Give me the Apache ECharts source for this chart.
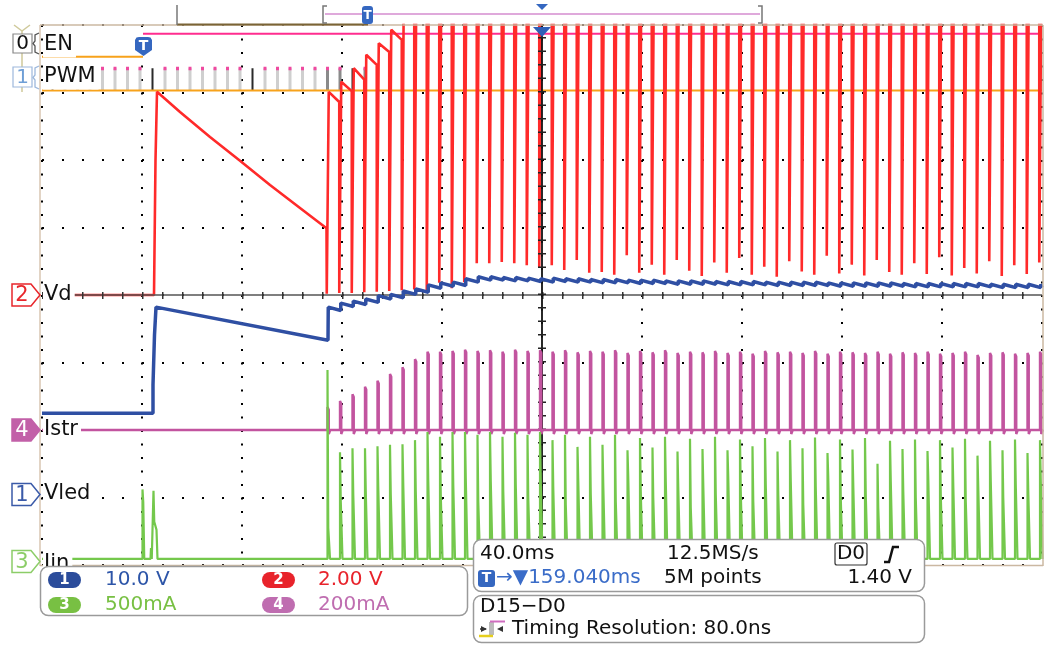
<!DOCTYPE html>
<html>
<head>
<meta charset="utf-8">
<title>EN / PWM / Vd / Istr / Vled / Iin</title>
<script src="https://cdn.jsdelivr.net/npm/echarts@6.0.0/dist/echarts.min.js"></script>
<style>
html,body{margin:0;padding:0;background:#fff;}
#chart{width:1062px;height:645px;}
</style>
</head>
<body>
<div id="chart"></div>
<script>
// ===== time base (ms): 40 ms/div, 10 divisions; vertical: 8 divisions =====
const timeMin = 0, timeMax = 400, timeDiv = 40;
const vMin = 0, vMax = 8;
const centerTime = 200, centerLevel = 4;

// ===== PWM clock (digital ch1) =====
const pwmFirst = 4.2;      // ms, first PWM pulse on screen
const pwmPeriod = 5;       // ms
const pwmCount = 80;
const pwmDarkIdx = [0, 8, 16, 24, 32, 40, 48, 56, 64, 72];
const swFirstIdx = 22;     // PWM pulse at which switching starts
const pwmLowLevel = 7.03, pwmHighLevel = 7.36;

// ===== EN (digital ch0) =====
const enEdge = 40.4;
const enLowLevel = 7.53, enHighLevel = 7.87;

// ===== Vd (ch2) before switching =====
const vdPreT = [0, 44.8, 45.4, 46.0, 55.2, 67.2, 79.2, 91.2, 103.2, 113.8];
const vdPreV = [4.00, 4.00, 6.00, 7.01, 6.71, 6.34, 5.99, 5.63, 5.29, 4.99];
// Vd per switching pulse (58 pulses): peak after rise, level before next fall, bottom of the fall
const vdPeak = [7.01,7.16,7.36,7.56,7.73,7.93,8.4,8.4,8.4,8.4,
                8.4,8.4,8.4,8.4,8.4,8.4,8.4,8.4,8.4,8.4,
                8.4,8.4,8.4,8.4,8.4,8.4,8.4,8.4,8.4,8.4,
                8.4,8.4,8.4,8.4,8.4,8.4,8.4,8.4,8.4,8.4,
                8.4,8.4,8.4,8.4,8.4,8.4,8.4,8.4,8.4,8.4,
                8.4,8.4,8.4,8.4,8.4,8.4,8.4,8.4];
const vdEnd  = [6.86,7.02,7.19,7.41,7.60,7.78,8.3,8.3,8.3,8.3,
                8.3,8.3,8.3,8.3,8.3,8.3,8.3,8.3,8.3,8.3,
                8.3,8.3,8.3,8.3,8.3,8.3,8.3,8.3,8.3,8.3,
                8.3,8.3,8.3,8.3,8.3,8.3,8.3,8.3,8.3,8.3,
                8.3,8.3,8.3,8.3,8.3,8.3,8.3,8.3,8.3,8.3,
                8.3,8.3,8.3,8.3,8.3,8.3,8.3,8.3];
const vdLow  = [4.02,4.03,4.03,4.04,4.05,4.06,4.07,4.08,4.07,4.18,
                4.10,4.19,4.47,4.47,4.49,4.47,4.44,4.41,4.44,4.37,
                4.52,4.33,4.34,4.30,4.59,4.33,4.45,4.30,4.52,4.36,
                4.28,4.48,4.33,4.55,4.30,4.42,4.27,4.50,4.35,4.30,
                4.58,4.32,4.45,4.29,4.52,4.34,4.30,4.47,4.31,4.56,
                4.29,4.40,4.32,4.50,4.28,4.44,4.31,4.48];

// ===== Vled (ch1) =====
const vledPreT = [0, 44.4, 44.4, 45.0, 45.0, 45.6, 45.6, 46.2, 114.4];
const vledPreV = [2.25, 2.25, 2.67, 2.67, 3.41, 3.41, 3.82, 3.84, 3.33];
const vledPeak = [3.82,3.88,3.91,3.94,3.99,4.01,4.06,4.09,4.15,4.18,
                  4.19,4.24,4.27,4.27,4.26,4.26,4.25,4.24,4.25,4.24,
                  4.24,4.23,4.23,4.23,4.22,4.22,4.22,4.21,4.21,4.21,
                  4.21,4.20,4.20,4.20,4.20,4.19,4.19,4.19,4.19,4.19,
                  4.18,4.18,4.18,4.18,4.18,4.18,4.17,4.17,4.17,4.17,
                  4.17,4.17,4.17,4.16,4.16,4.16,4.16,4.16];
const vledRipple = 0.05;

// ===== Istr (ch4) =====
const istrBase = 2.0;
const istrPeak = [2.34,2.43,2.53,2.64,2.73,2.83,2.93,3.05,3.16,3.16,
                  3.17,3.19,3.17,3.18,3.16,3.19,3.17,3.18,3.16,3.18,
                  3.15,3.17,3.16,3.18,3.14,3.17,3.15,3.18,3.14,3.16,
                  3.15,3.17,3.14,3.16,3.13,3.17,3.15,3.16,3.14,3.17,
                  3.13,3.16,3.15,3.14,3.16,3.13,3.15,3.14,3.16,3.13,
                  3.14,3.16,3.11,3.14,3.15,3.13,3.14,3.16];

// ===== Iin (ch3) =====
const iinBase = 0.09;
const iinPreT = [0, 40.2, 40.2, 40.5, 40.5, 40.9, 40.9, 43.4, 43.6, 43.9, 44.6, 44.6, 44.9, 44.9, 45.8, 46.2];
const iinPreV = [0.09, 0.09, 1.12, 1.12, 0.93, 0.93, 0.09, 0.09, 0.25, 0.09, 0.09, 1.10, 1.10, 0.64, 0.52, 0.09];
const iinPeak = [2.89,1.67,1.73,1.73,1.76,1.78,1.79,1.85,1.97,1.90,
                 1.97,1.97,1.93,1.97,1.90,1.96,1.93,1.97,1.85,1.93,
                 1.75,1.90,1.78,1.93,1.70,1.88,1.74,1.90,1.68,1.87,
                 1.72,1.90,1.70,1.86,1.76,1.88,1.68,1.85,1.73,1.89,
                 1.66,1.86,1.71,1.88,1.50,1.84,1.72,1.86,1.69,1.85,
                 1.74,1.87,1.62,1.84,1.70,1.86,1.66,1.85];
const iinShoulder = [0.55,0.95,1.05,1.10,1.15,1.05,1.20,1.10,1.25,1.05,
                     1.20,1.30,0.95,1.25,1.10,1.20,1.00,1.25,1.15,0.90,
                     1.25,1.05,1.20,0.95,1.30,1.10,1.00,1.25,1.15,0.85,
                     1.20,1.05,1.30,1.10,0.95,1.20,1.05,1.25,0.90,1.15,
                     1.30,1.00,1.20,1.05,0.85,1.25,1.10,1.00,1.30,1.05,
                     1.20,0.95,1.15,1.25,1.00,1.20,1.10,1.25];

// ===== scale / readout texts =====
const chLabels = ['EN', 'PWM', 'Vd', 'Istr', 'Vled', 'Iin'];
const scaleTexts = ['10.0 V', '2.00 V', '500mA', '200mA'];
const horizTexts = ['40.0ms', '12.5MS/s', 'D0', '\u2192\u25BC159.040ms', '5M points', '1.40 V', 'D15\u2212D0', 'Timing Resolution: 80.0ns'];

// ---------------- build series data ----------------
const pwmTimes = [];
for (let k = 0; k < pwmCount; k++) pwmTimes.push(+(pwmFirst + k * pwmPeriod).toFixed(2));
const swTimes = pwmTimes.slice(swFirstIdx);

function barData(idxs, lo, hi) {
  const d = [];
  idxs.forEach(k => { const t = pwmTimes[k]; d.push([t, lo], [t, hi], [t, null]); });
  return d;
}
const allIdx = pwmTimes.map((_, k) => k);
const lightIdx = allIdx.filter(k => k < swFirstIdx && pwmDarkIdx.indexOf(k) < 0);
const grayIdx = allIdx.filter(k => k >= swFirstIdx && pwmDarkIdx.indexOf(k) < 0);
const capIdx = allIdx.filter(k => pwmDarkIdx.indexOf(k) < 0);

// Vd
const vdData = vdPreT.map((t, j) => [t, vdPreV[j]]);
swTimes.forEach((t, i) => {
  const prevEnd = i === 0 ? vdPreV[vdPreV.length - 1] : vdEnd[i - 1];
  vdData.push([t - 0.3, prevEnd], [t - 0.3, vdLow[i]], [t + 0.5, vdLow[i]], [t + 0.5, vdPeak[i]]);
});
vdData.push([timeMax, vdEnd[vdEnd.length - 1]]);

// Vled
const vledData = vledPreT.map((t, j) => [t, vledPreV[j]]);
let vPrev = vledPreV[vledPreV.length - 1];
swTimes.forEach((t, i) => {
  vledData.push([t + 0.3, vPrev], [t + 0.3, vledPeak[i]]);
  vPrev = vledPeak[i] - vledRipple;
});
vledData.push([timeMax, vPrev]);

// Istr
const istrData = [[timeMin, istrBase]];
swTimes.forEach((t, i) => {
  istrData.push([t, istrBase], [t, istrPeak[i]], [t + 0.5, istrPeak[i] - 0.04], [t + 0.5, istrBase - 0.06], [t + 1.1, istrBase]);
});
istrData.push([timeMax, istrBase]);

// Iin
const iinData = iinPreT.map((t, j) => [t, iinPreV[j]]);
swTimes.forEach((t, i) => {
  iinData.push([t, iinBase], [t, iinPeak[i]], [t + 0.3, iinPeak[i]], [t + 0.3, iinShoulder[i]], [t + 1.0, iinShoulder[i]], [t + 1.0, iinBase]);
});
iinData.push([timeMax, iinBase]);

// ---------------- chart ----------------
const chart = echarts.init(document.getElementById('chart'));
const FONT = "'DejaVu Sans', 'Noto Sans', sans-serif";

function lineS(name, data, color, width, z) {
  return { name, type: 'line', data, symbol: 'none', silent: true, animation: false, z: z || 2,
           connectNulls: false, clip: true, lineStyle: { color, width, cap: 'butt', join: 'bevel' } };
}

// graphic helpers (decorations only)
function gText(x, y, text, fill, opt) {
  return { type: 'text', x, y, z: 100, silent: true,
           style: Object.assign({ text, fill, font: '20px ' + FONT, verticalAlign: 'middle', align: 'left' }, opt || {}) };
}
function gLine(x1, y1, x2, y2, stroke, w, z) {
  return { type: 'line', z: z || 90, silent: true, shape: { x1, y1, x2, y2 }, style: { stroke, lineWidth: w || 1.5 } };
}
function gPolyline(points, stroke, w, z) {
  return { type: 'polyline', z: z || 90, silent: true, shape: { points }, style: { stroke, lineWidth: w || 1.5, fill: null } };
}
function gPolygon(points, fill, stroke, w, z) {
  return { type: 'polygon', z: z || 90, silent: true, shape: { points }, style: { fill, stroke, lineWidth: w || 1.5 } };
}
function gRect(x, y, w, h, fill, stroke, lw, r, z) {
  return { type: 'rect', z: z || 95, silent: true, shape: { x, y, width: w, height: h, r: r || 0 },
           style: { fill, stroke, lineWidth: lw || 1 } };
}
function pent(yc, color, filled, digit) {
  return [
    gPolygon([[12, yc - 11], [31, yc - 11], [40, yc], [31, yc + 11], [12, yc + 11]], filled ? color : '#fff', color, 1.5, 96),
    gText(22, yc + 1, digit, filled ? '#fff' : color, { align: 'center', font: '21px ' + FONT })
  ];
}
function chLabel(x, y, text) {
  const t = gText(x, y, text, '#111', { font: '21px ' + FONT, backgroundColor: '#fff', padding: [2, 3, 2, 1] });
  t.z = 98;
  return t;
}
function zt(el, z) { el.z = z; return el; }

const graphics = [
  // frame
  gLine(40, 25, 1043, 25, '#cbb8a2', 1.5), gLine(40, 25, 40, 566, '#d9c6b2', 1.5),
  gLine(1043, 25, 1043, 566, '#cbb8a2', 1.5), gLine(40, 565.5, 1043, 565.5, '#cbb8a2', 1.5),
  gLine(177, 24.5, 368, 24.5, '#7a6436', 2),
  // record view at top
  gLine(177, 5, 177, 25, '#777', 1.5),
  gPolyline([[327, 6], [323, 6], [323, 23], [327, 23]], '#777', 1.5),
  gLine(325, 14, 760, 14, '#d58ccf', 1.5),
  gPolyline([[758, 6], [762, 6], [762, 23], [758, 23]], '#777', 1.5),
  gRect(362, 6, 11, 18, '#3567c0', null, 0, 3, 96),
  zt(gText(367.5, 15.5, 'T', '#fff', { align: 'center', font: 'bold 12px ' + FONT }), 97),
  gPolygon([[536, 4], [548, 4], [542, 10]], '#3567c0', null, 0),
  // trigger markers on the graticule
  gPolygon([[533, 27], [551, 27], [542, 37]], '#2f5fb8', null, 0, 96),
  gPolygon([[135, 40], [136.5, 37.5], [139, 37], [148, 37], [150.5, 37.5], [152, 40], [152, 50], [143.5, 56], [135, 50]], '#3567c0', null, 0, 96),
  zt(gText(143.5, 46, 'T', '#fff', { align: 'center', font: 'bold 14px ' + FONT }), 97),
  // digital channel markers
  gLine(14, 25, 22, 31, '#cfc99a', 1.5), gLine(30, 25, 22, 31, '#cfc99a', 1.5), gLine(22, 31, 22, 92, '#cfc99a', 1.5),
  gRect(13, 34, 19, 19, '#fff', '#888', 1.2, 0, 96),
  zt(gText(22.5, 44, '0', '#111', { align: 'center', font: '20px ' + FONT }), 97),
  gPolyline([[39, 33], [35, 35], [35, 41], [33, 43.5], [35, 46], [35, 52], [39, 54]], '#555', 1.3, 96),
  gRect(13, 67, 19, 20, '#fff', '#9db8dc', 1.2, 0, 96),
  zt(gText(22.5, 77.5, '1', '#6f9fd6', { align: 'center', font: '20px ' + FONT }), 97),
  gPolyline([[39, 66], [35, 68], [35, 75], [33, 77.5], [35, 80], [35, 87], [39, 89]], '#9db8dc', 1.3, 96),
  // analog channel markers
  ...pent(295, '#e8262b', false, '2'),
  ...pent(430, '#c260a8', true, '4'),
  ...pent(494.5, '#3a5aa8', false, '1'),
  ...pent(561.5, '#8ccd68', false, '3'),
  // channel labels
  chLabel(43, 45, chLabels[0]),
  chLabel(43, 77, chLabels[1]),
  chLabel(43, 295, chLabels[2]),
  chLabel(43, 430, chLabels[3]),
  chLabel(43, 494, chLabels[4]),
  chLabel(43, 564, chLabels[5]),
  // scale box (left)
  gRect(40.5, 566.5, 427, 49, '#fff', '#9a9a9a', 1.5, 8, 110),
  gRect(48, 572, 33, 16, '#2b4c9b', null, 0, 8, 111),
  zt(gText(64.5, 580.5, '1', '#fff', { align: 'center', font: 'bold 15px ' + FONT }), 112),
  zt(gText(105, 580, scaleTexts[0], '#2d55a8'), 112),
  gRect(262, 572, 33, 16, '#e8232b', null, 0, 8, 111),
  zt(gText(278.5, 580.5, '2', '#fff', { align: 'center', font: 'bold 15px ' + FONT }), 112),
  zt(gText(318, 580, scaleTexts[1], '#e8232b'), 112),
  gRect(48, 597, 33, 16, '#78c043', null, 0, 8, 111),
  zt(gText(64.5, 605.5, '3', '#fff', { align: 'center', font: 'bold 15px ' + FONT }), 112),
  zt(gText(105, 605, scaleTexts[2], '#78c043'), 112),
  gRect(262, 597, 33, 16, '#bf6db0', null, 0, 8, 111),
  zt(gText(278.5, 605.5, '4', '#fff', { align: 'center', font: 'bold 15px ' + FONT }), 112),
  zt(gText(318, 605, scaleTexts[3], '#bf6db0'), 112),
  // horizontal / trigger box (right)
  gRect(473.5, 539.5, 451, 52, '#fff', '#9a9a9a', 1.5, 8, 110),
  zt(gText(480, 554, horizTexts[0], '#111'), 112),
  zt(gText(667, 554, horizTexts[1], '#111'), 112),
  gRect(835, 543, 32, 22, '#fff', '#333', 1.2, 2, 111),
  zt(gText(851, 554, horizTexts[2], '#111', { align: 'center' }), 112),
  gPolyline([[884, 562], [889, 562], [893, 547], [899, 547]], '#111', 2.5, 112),
  gRect(478, 570, 17, 17, '#3567c0', null, 0, 3, 111),
  zt(gText(486.5, 578.5, 'T', '#fff', { align: 'center', font: 'bold 14px ' + FONT }), 112),
  zt(gText(496, 578, horizTexts[3], '#3a6cc8'), 112),
  zt(gText(664, 578, horizTexts[4], '#111'), 112),
  zt(gText(912, 578, horizTexts[5], '#111', { align: 'right' }), 112),
  // acquisition box
  gRect(473.5, 595.5, 451, 47, '#fff', '#9a9a9a', 1.5, 8, 110),
  zt(gText(480, 607, horizTexts[6], '#111'), 112),
  gPolygon([[481, 626], [487, 629], [481, 632]], '#333', null, 0, 112),
  gLine(480, 629, 486, 629, '#333', 1.5, 112),
  gRect(489, 622, 5, 13, '#bbb', null, 0, 0, 112),
  gPolygon([[503, 626], [497, 629], [503, 632]], '#333', null, 0, 112),
  gLine(490, 621.5, 505, 621.5, '#d06cc0', 2, 112),
  gLine(479, 636, 493, 636, '#e6cf1e', 2.5, 112),
  zt(gText(512, 629, horizTexts[7], '#111'), 112)
];

const option = {
  backgroundColor: '#ffffff',
  animation: false,
  grid: { left: 42, top: 25, width: 1000, height: 540, show: false },
  xAxis: {
    type: 'value', min: timeMin, max: timeMax, interval: timeDiv,
    axisLine: { show: false }, axisTick: { show: false }, axisLabel: { show: false },
    splitLine: { show: true, lineStyle: { color: '#000', width: 2, type: [2, 11.5] } }
  },
  yAxis: {
    type: 'value', min: vMin, max: vMax, interval: 1,
    axisLine: { show: false }, axisTick: { show: false }, axisLabel: { show: false },
    splitLine: { show: true, lineStyle: { color: '#000', width: 2, type: [2, 18] } }
  },
  series: [
    {
      name: 'center', type: 'line', data: [[timeMin, null]], symbol: 'none', silent: true, z: 1,
      markLine: {
        silent: true, symbol: 'none', label: { show: false }, animation: false,
        data: [
          { yAxis: centerLevel, lineStyle: { color: '#555', width: 1.5, type: 'solid' } },
          { yAxis: centerLevel, lineStyle: { color: '#333', width: 7, type: [1.5, 18.5] } },
          { xAxis: centerTime, lineStyle: { color: '#111', width: 1.8, type: 'solid' } },
          { xAxis: centerTime, lineStyle: { color: '#222', width: 8, type: [1.5, 12] } }
        ]
      }
    },
    lineS('PWM light', barData(lightIdx, pwmLowLevel, pwmHighLevel), '#cfcfcf', 3, 2),
    lineS('PWM', barData(grayIdx, pwmLowLevel, pwmHighLevel), '#8a8a8a', 3, 2),
    lineS('PWM dark', barData(pwmDarkIdx, pwmLowLevel, pwmHighLevel), '#2a2a2a', 2, 2),
    lineS('PWM cap', barData(capIdx, pwmHighLevel - 0.03, pwmHighLevel + 0.02), '#ee4aa0', 3, 2),
    lineS('PWM low', [[timeMin, pwmLowLevel], [timeMax, pwmLowLevel]], '#f7a21b', 2, 3),
    lineS('EN low', [[timeMin, enLowLevel], [enEdge, enLowLevel]], '#f7a21b', 2, 3),
    lineS('EN high', [[enEdge, enHighLevel], [timeMax, enHighLevel]], '#ff2d8f', 2, 3),
    lineS('Vd', vdData, '#ff2a2a', 2.6, 4),
    lineS('Vled', vledData, '#2f4fa3', 3.5, 5),
    lineS('Istr', istrData, '#c2549f', 2.4, 6),
    lineS('Iin', iinData, '#74c84c', 2.2, 6)
  ],
  graphic: graphics
};
chart.setOption(option);
</script>
</body>
</html>
